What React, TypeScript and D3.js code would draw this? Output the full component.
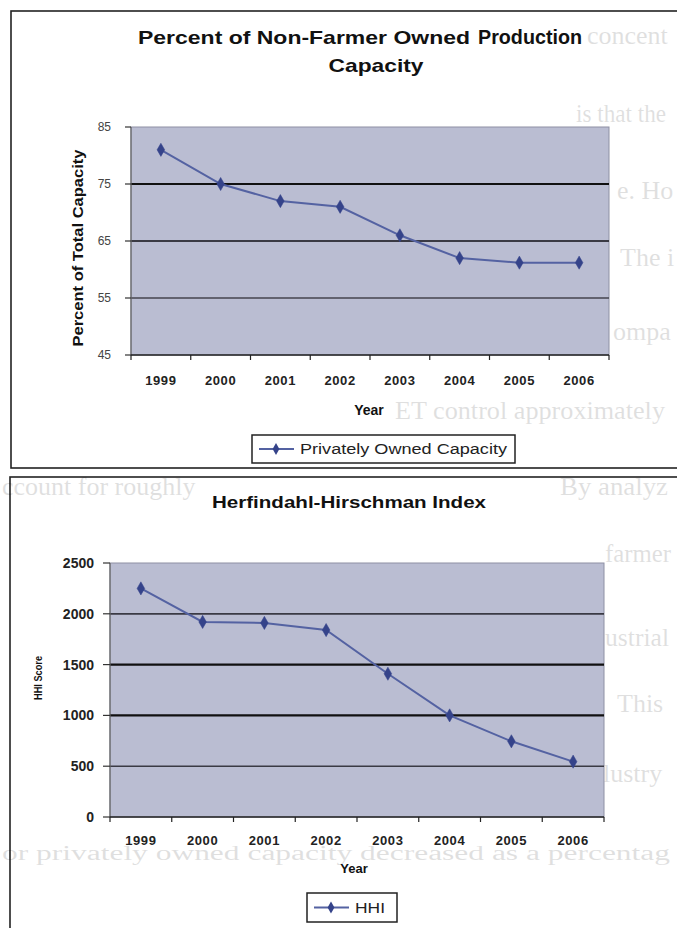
import React from "react";
import * as d3 from "d3";

// ---------- data ----------
const YEARS = ["1999", "2000", "2001", "2002", "2003", "2004", "2005", "2006"];
const CAPACITY = [81, 75, 72, 71, 66, 62, 61.2, 61.2];
const HHI = [2250, 1920, 1910, 1840, 1410, 1000, 745, 545];
const CAP_TICKS = [45, 55, 65, 75, 85];
const HHI_TICKS = [0, 500, 1000, 1500, 2000, 2500];

// faint show-through text of the scanned page (only the visible parts)
const FAINT_LINES = [
  { x: 587, y: 44, t: "concent", len: 0, fs: 26 },
  { x: 576, y: 122, t: "is that the", len: 90, fs: 26 },
  { x: 617, y: 199, t: "e. Ho", len: 0, fs: 26 },
  { x: 620, y: 266, t: "The i", len: 0, fs: 26 },
  { x: 613, y: 340, t: "ompa", len: 0, fs: 26 },
  { x: 395, y: 419, t: "ET control approximately", len: 270, fs: 26 },
  { x: 2, y: 495, t: "ccount for roughly", len: 0, fs: 26 },
  { x: 560, y: 495, t: "By analyz", len: 108, fs: 26 },
  { x: 605, y: 562, t: "farmer", len: 66, fs: 26 },
  { x: 605, y: 646, t: "ustrial", len: 64, fs: 26 },
  { x: 617, y: 712, t: "This", len: 0, fs: 26 },
  { x: 603, y: 782, t: "lustry", len: 0, fs: 26 },
  { x: 2, y: 860, t: "or privately owned capacity decreased as a percentag", len: 668, fs: 20 },
];

const SANS = "'Liberation Sans', Arial, Helvetica, sans-serif";
const SERIF = "'Liberation Serif', 'Times New Roman', serif";
const PLOT_BG = "#babdd2";
const LINE_C = "#5462a2";
const MARK_C = "#35438a";

type GridStyle = { [k: number]: { c: string; w: number } };

type ChartProps = {
  values: number[];
  domain: [number, number];
  ticks: number[];
  x0: number; x1: number; y0: number; y1: number;
  grid: GridStyle;
  yLabelX: number; yLabelSize: number; yLabelWeight: string | number; yLabelFill: string;
  yTickLen: number;
  xLabelY: number; xLabelSize: number;
  xTitle: { x: number; y: number; size: number };
  yTitle: { text: string; x: number; y: number; size: number; len: number };
};

function Plot(p: ChartProps) {
  const x = d3.scaleBand<string>().domain(YEARS).range([p.x0, p.x1]);
  const y = d3.scaleLinear().domain(p.domain).range([p.y1, p.y0]);
  const cx = (i: number) => (x(YEARS[i]) as number) + x.bandwidth() / 2;
  const line = d3.line<number>().x((_, i) => cx(i)).y((d) => y(d));
  const diamond = d3.symbol().type(d3.symbolDiamond).size(50)() as string;
  const boundaries = d3.range(YEARS.length + 1).map((i) => p.x0 + i * x.step());
  return (
    <g>
      <rect x={p.x0} y={p.y0} width={p.x1 - p.x0} height={p.y1 - p.y0} fill={PLOT_BG} stroke="#8e90a4" strokeWidth={1} />
      {p.ticks.filter((t) => p.grid[t]).map((t) => (
        <line key={"g" + t} x1={p.x0} x2={p.x1} y1={y(t)} y2={y(t)} stroke={p.grid[t].c} strokeWidth={p.grid[t].w} />
      ))}
      {/* y axis */}
      <line x1={p.x0} x2={p.x0} y1={p.y0} y2={p.y1} stroke="#666" strokeWidth={1.2} />
      {p.ticks.map((t) => (
        <g key={"yt" + t}>
          <line x1={p.x0 - p.yTickLen} x2={p.x0} y1={y(t)} y2={y(t)} stroke="#333" strokeWidth={1.2} />
          <text x={p.yLabelX} y={y(t)} dy="0.36em" textAnchor="end" fontFamily={SANS}
            fontSize={p.yLabelSize} fontWeight={p.yLabelWeight} fill={p.yLabelFill}>{t}</text>
        </g>
      ))}
      {/* x axis */}
      <line x1={p.x0} x2={p.x1} y1={p.y1} y2={p.y1} stroke="#222" strokeWidth={1.6} />
      {boundaries.map((bx, i) => (
        <line key={"xt" + i} x1={bx} x2={bx} y1={p.y1} y2={p.y1 + 5} stroke="#222" strokeWidth={1.2} />
      ))}
      {YEARS.map((yr, i) => (
        <text key={yr} x={cx(i)} y={p.xLabelY} textAnchor="middle" fontFamily={SANS}
          fontSize={p.xLabelSize} fontWeight="bold" fill="#222" letterSpacing={0.6}>{yr}</text>
      ))}
      <text x={p.xTitle.x} y={p.xTitle.y} textAnchor="middle" fontFamily={SANS} fontSize={p.xTitle.size}
        fontWeight="bold" fill="#111">Year</text>
      <text transform={`translate(${p.yTitle.x},${p.yTitle.y}) rotate(-90)`} textAnchor="middle" dy="0.36em"
        fontFamily={SANS} fontSize={p.yTitle.size} fontWeight="bold" fill="#111"
        textLength={p.yTitle.len} lengthAdjust="spacingAndGlyphs">{p.yTitle.text}</text>
      {/* series */}
      <path d={line(p.values) as string} fill="none" stroke={LINE_C} strokeWidth={2} />
      {p.values.map((v, i) => (
        <path key={"m" + i} d={diamond} transform={`translate(${cx(i)},${y(v)})`} fill={MARK_C} stroke={MARK_C} strokeWidth={0.5} />
      ))}
    </g>
  );
}

function Legend({ x, y, w, h, label, textLen }: { x: number; y: number; w: number; h: number; label: string; textLen: number }) {
  const diamond = d3.symbol().type(d3.symbolDiamond).size(40)() as string;
  return (
    <g>
      <rect x={x} y={y} width={w} height={h} fill="#fff" stroke="#222" strokeWidth={1.5} />
      <line x1={x + 7} x2={x + 42} y1={y + h / 2} y2={y + h / 2} stroke={LINE_C} strokeWidth={2} />
      <path d={diamond} transform={`translate(${x + 24},${y + h / 2})`} fill={MARK_C} />
      <text x={x + 48} y={y + h / 2} dy="0.36em" fontFamily={SANS} fontSize={14} fill="#222"
        textLength={textLen} lengthAdjust="spacingAndGlyphs">{label}</text>
    </g>
  );
}

export default function App() {
  return (
    <svg width={677} height={928} viewBox="0 0 677 928"
      style={{ position: "absolute", left: 0, top: 0, background: "#fff" }}>
      <rect x={0} y={0} width={677} height={928} fill="#fff" />
      {/* frames */}
      <rect x={11} y={11} width={700} height={457} fill="#fff" stroke="#222" strokeWidth={1.6} />
      <rect x={10} y={477} width={700} height={480} fill="#fff" stroke="#222" strokeWidth={1.6} />

      {/* faint scan show-through */}
      <g fontFamily={SERIF} fill="#000" opacity={0.12}>
        {FAINT_LINES.map((l, i) => (
          <text key={i} x={l.x} y={l.y} fontSize={l.fs}
            {...(l.len ? { textLength: l.len, lengthAdjust: "spacingAndGlyphs" } : {})}>{l.t}</text>
        ))}
      </g>

      {/* ---------- top chart ---------- */}
      <text x={138} y={44} fontFamily={SANS} fontSize={19} fontWeight="bold" fill="#111"
        textLength={332} lengthAdjust="spacingAndGlyphs">Percent of Non-Farmer Owned</text>
      <text x={478} y={44} fontFamily={SANS} fontSize={20} fontWeight={900} fill="#111"
        textLength={104} lengthAdjust="spacingAndGlyphs">Production</text>
      <text x={376} y={72} textAnchor="middle" fontFamily={SANS} fontSize={19} fontWeight="bold" fill="#111"
        textLength={95} lengthAdjust="spacingAndGlyphs">Capacity</text>
      <Plot
        values={CAPACITY}
        domain={[45, 85]}
        ticks={CAP_TICKS}
        x0={131} x1={609} y0={127} y1={355}
        grid={{ 75: { c: "#111", w: 2.2 }, 65: { c: "#3a3a44", w: 1.8 }, 55: { c: "#44444e", w: 1.6 } }}
        yLabelX={111} yLabelSize={12} yLabelWeight="normal" yLabelFill="#444"
        yTickLen={6}
        xLabelY={385} xLabelSize={13}
        xTitle={{ x: 369, y: 415, size: 14 }}
        yTitle={{ text: "Percent of Total Capacity", x: 78, y: 248, size: 14, len: 197 }}
      />
      <Legend x={252} y={435} w={263} h={28} label="Privately Owned Capacity" textLen={207} />

      {/* ---------- bottom chart ---------- */}
      <text x={349} y={508} textAnchor="middle" fontFamily={SANS} fontSize={17} fontWeight="bold" fill="#111"
        textLength={274} lengthAdjust="spacingAndGlyphs">Herfindahl-Hirschman Index</text>
      <Plot
        values={HHI}
        domain={[0, 2500]}
        ticks={HHI_TICKS}
        x0={110} x1={604} y0={563} y1={817}
        grid={{ 2000: { c: "#3a3a44", w: 1.8 }, 1500: { c: "#111", w: 2.2 }, 1000: { c: "#111", w: 2.2 }, 500: { c: "#3a3a44", w: 1.6 } }}
        yLabelX={94} yLabelSize={14} yLabelWeight="bold" yLabelFill="#222"
        yTickLen={7}
        xLabelY={845} xLabelSize={13}
        xTitle={{ x: 354, y: 873, size: 13 }}
        yTitle={{ text: "HHI Score", x: 38, y: 678, size: 11, len: 44 }}
      />
      <Legend x={307} y={893} w={90} h={29} label="HHI" textLen={30} />
    </svg>
  );
}
